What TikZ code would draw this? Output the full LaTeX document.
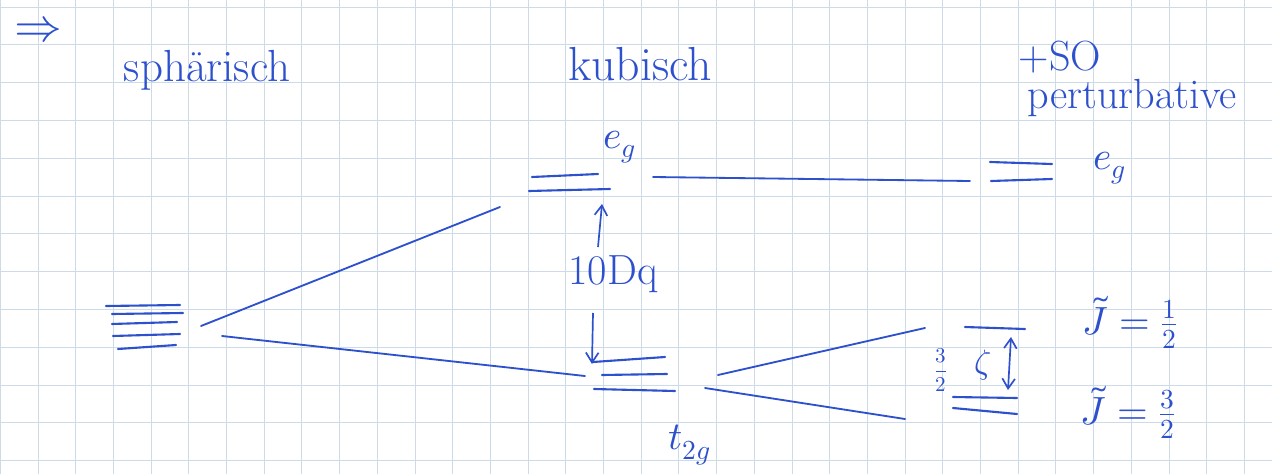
\documentclass[tikz,border=0pt]{standalone}
\usepackage{unicode-math}
\usetikzlibrary{arrows.meta}
\definecolor{ink}{RGB}{45,80,205}
\definecolor{gridc}{RGB}{205,218,232}
\tikzset{
  lvl/.style={draw=ink, line width=1.5pt, line cap=round},
  conn/.style={draw=ink, line width=1.3pt, line cap=round},
  arr/.style={draw=ink, line width=1.2pt, -{Straight Barb[length=7pt,width=9pt]}},
  lbl/.style={text=ink, inner sep=0pt, font=\fontsize{28}{32}\selectfont},
  sml/.style={text=ink, inner sep=0pt, font=\fontsize{15}{18}\selectfont}
}
\begin{document}
\begin{tikzpicture}[x=0.025cm, y=-0.025cm]
\useasboundingbox (0,0) rectangle (1272,474);
\fill[white] (0,0) rectangle (1272,474);
% grid paper
\foreach \k in {0,...,33} {\draw[gridc, line width=0.6pt] ({0.3+37.7*\k},0) -- ({0.3+37.7*\k},474);}
\foreach \k in {0,...,12} {\draw[gridc, line width=0.6pt] (0,{7+37.8*\k}) -- (1272,{7+37.8*\k});}

% headings
\node[lbl, font=\fontsize{34}{38}\selectfont] (imp) at (38,30) {$\Rightarrow$};
\node[lbl, font=\fontsize{32}{36}\selectfont] (sph) at (207,70) {sphärisch};
\node[lbl, font=\fontsize{34}{38}\selectfont] (kub) at (640,64) {kubisch};
\node[lbl, font=\fontsize{30}{34}\selectfont] (so) at (1060,57) {+SO};
\node[lbl, font=\fontsize{30}{34}\selectfont] (pert) at (1132,98) {perturbative};

% spherical levels
\coordinate (s1a) at (106,306); \coordinate (s1b) at (180,305);
\coordinate (s2a) at (112,314); \coordinate (s2b) at (183,313);
\coordinate (s3a) at (112,324); \coordinate (s3b) at (177,322);
\coordinate (s4a) at (113,336); \coordinate (s4b) at (180,334);
\coordinate (s5a) at (118,349); \coordinate (s5b) at (176,345);
\foreach \i in {1,...,5} {\draw[lvl] (s\i a) -- (s\i b);}

% cubic e_g levels
\coordinate (ea1) at (532,177); \coordinate (eb1) at (598,174);
\coordinate (ea2) at (529,191); \coordinate (eb2) at (610,189);
\draw[lvl] (ea1) -- (eb1);
\draw[lvl] (ea2) -- (eb2);
\node[lbl] (eg1) at (620,147) {$e_g$};

% cubic t_2g levels
\coordinate (ta1) at (593,362); \coordinate (tb1) at (665,357);
\coordinate (ta2) at (602,375); \coordinate (tb2) at (667,374);
\coordinate (ta3) at (594,389); \coordinate (tb3) at (675,391);
\draw[lvl] (ta1) -- (tb1);
\draw[lvl] (ta2) -- (tb2);
\draw[lvl] (ta3) -- (tb3);
\node[lbl] (t2g) at (690,445) {$t_{2g}$};

% 10Dq
\node[lbl, font=\fontsize{30}{34}\selectfont] (dq) at (613,274) {10Dq};
\coordinate (upS) at (598,247); \coordinate (upE) at (602,204);
\coordinate (dnS) at (593,313); \coordinate (dnE) at (592,364);
\draw[arr] (upS) -- (upE);
\draw[arr] (dnS) -- (dnE);

% connectors from spherical
\coordinate (c1a) at (201,326); \coordinate (c1b) at (500,207);
\coordinate (c2a) at (222,336); \coordinate (c2b) at (585,376);
\draw[conn] (c1a) -- (c1b);
\draw[conn] (c2a) -- (c2b);

% e_g to right
\coordinate (c3a) at (653,177); \coordinate (c3b) at (970,181);
\draw[conn] (c3a) -- (c3b);

% right e_g levels
\coordinate (ra1) at (990,162); \coordinate (rb1) at (1052,164);
\coordinate (ra2) at (991,181); \coordinate (rb2) at (1052,179);
\draw[lvl] (ra1) -- (rb1);
\draw[lvl] (ra2) -- (rb2);
\node[lbl] (eg2) at (1110,168) {$e_g$};

% t_2g to right
\coordinate (c4a) at (718,375); \coordinate (c4b) at (925,328);
\coordinate (c5a) at (705,388); \coordinate (c5b) at (905,419);
\draw[conn] (c4a) -- (c4b);
\draw[conn] (c5a) -- (c5b);

% SO levels
\coordinate (qa1) at (965,327); \coordinate (qb1) at (1025,329);
\coordinate (qa2) at (953,397); \coordinate (qb2) at (1017,398);
\coordinate (qa3) at (953,408); \coordinate (qb3) at (1017,414);
\draw[lvl] (qa1) -- (qb1);
\draw[lvl] (qa2) -- (qb2);
\draw[lvl] (qa3) -- (qb3);
\coordinate (zaT) at (1011,337); \coordinate (zaB) at (1008,390);
\draw[draw=ink, line width=1.2pt, {Straight Barb[length=7pt,width=9pt]}-{Straight Barb[length=7pt,width=9pt]}] (zaT) -- (zaB);
\node[sml] (th) at (941,370) {$\dfrac{3}{2}$};
\node[lbl, font=\fontsize{24}{28}\selectfont] (zeta) at (983,365) {$\zeta$};

\node[lbl] (j1) at (1130,322) {$\tilde{J}=\frac{1}{2}$};
\node[lbl] (j2) at (1128,412) {$\tilde{J}=\frac{3}{2}$};
\end{tikzpicture}
\end{document}
